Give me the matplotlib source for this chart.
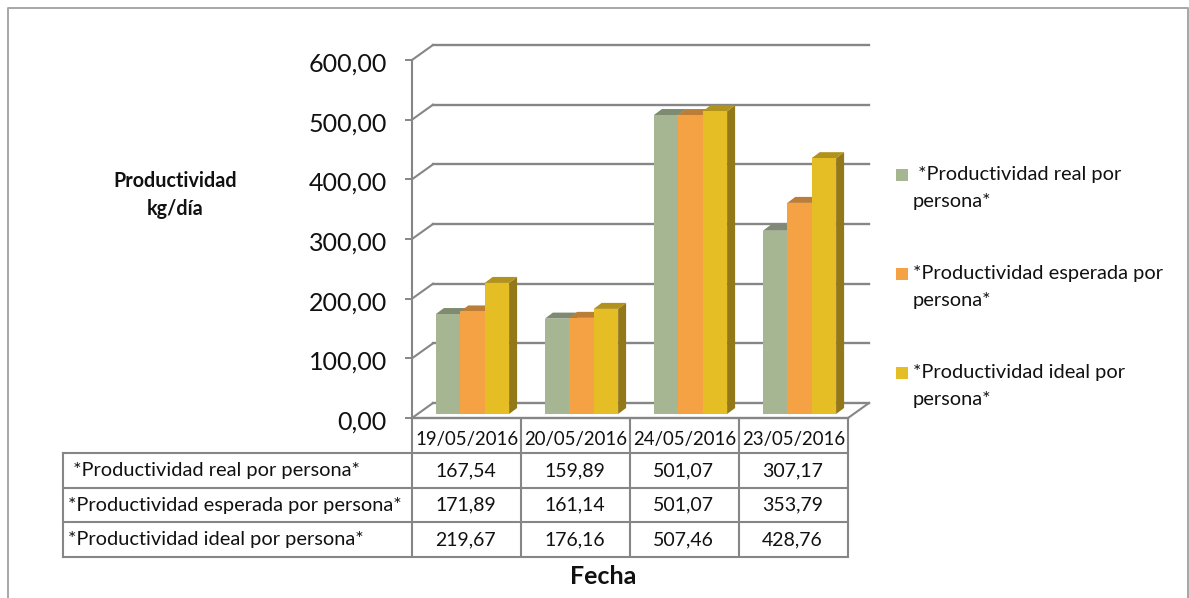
import matplotlib
matplotlib.use("Agg")
import matplotlib.pyplot as plt
from matplotlib.patches import Polygon, Rectangle
from matplotlib.transforms import ScaledTranslation

plt.rcParams['font.family'] = ['Lato', 'DejaVu Sans']

fechas = ["19/05/2016", "20/05/2016", "24/05/2016", "23/05/2016"]
series = [" *Productividad real por persona*", "*Productividad esperada por persona*", "*Productividad ideal por persona*"]
leyenda = [" *Productividad real por\npersona*", "*Productividad esperada por\npersona*", "*Productividad ideal por\npersona*"]
real = [167.54, 159.89, 501.07, 307.17]
esperada = [171.89, 161.14, 501.07, 353.79]
ideal = [219.67, 176.16, 507.46, 428.76]
valores = [real, esperada, ideal]
yticks = [0, 100, 200, 300, 400, 500, 600]

colores = ["#A6B592", "#F4A244", "#E5BD24"]
tapas = ["#7F8B70", "#BC7E36", "#B1921C"]
lados = ["#6F7A60", "#A87030", "#93781A"]
gris = "#868686"

W, H = 1189, 598
fig = plt.figure(figsize=(W/100, H/100), dpi=100)

# capa en pixeles para marco, tabla, leyenda y textos
capa = fig.add_axes([0, 0, 1, 1])
capa.set_xlim(0, W)
capa.set_ylim(H, 0)
capa.axis("off")

# grafico principal: frente del cubo 3D
x0, x1, y0, y1 = 412, 848, 418, 60
ax = fig.add_axes([x0/W, 1-y0/H, (x1-x0)/W, (y0-y1)/H])
ax.patch.set_alpha(0)
ax.set_xlim(0, 4)
ax.set_ylim(0, 600)
px_x = 4/(x1-x0)       # unidades de datos por pixel
px_y = 600/(y0-y1)

for s in ["top", "right", "bottom"]:
    ax.spines[s].set_visible(False)
ax.spines["left"].set_color(gris)
ax.spines["left"].set_linewidth(1.5)
ax.set_xticks([])
ax.set_yticks(yticks)
ax.set_yticklabels(["%d,00" % v for v in yticks], fontsize=18, color="#111111")
ax.tick_params(axis="y", length=5, width=1.4, color=gris, pad=13)
# las etiquetas van 2 px mas abajo que la marca
bajar = ScaledTranslation(0, -2/100, fig.dpi_scale_trans)
for lab in ax.get_yticklabels():
    lab.set_transform(lab.get_transform() + bajar)

# paredes: lineas de la cuadricula
fondo_x = 21*px_x
fondo_y = 15*px_y
for v in yticks:
    ax.plot([0, fondo_x], [v, v+fondo_y], color=gris, lw=1.5, clip_on=False, zorder=1)
    ax.plot([fondo_x, 4+fondo_x], [v+fondo_y, v+fondo_y], color=gris, lw=1.7, clip_on=False, zorder=1)
ax.plot([4, 4+fondo_x], [0, fondo_y], color=gris, lw=1.5, clip_on=False, zorder=1)
ax.plot([0, 4], [0, 0], color=gris, lw=1.7, clip_on=False, zorder=1)

# barras
ancho = 24.4*px_x
prof_x = 8*px_x
prof_y = 6*px_y
base_x = 6*px_x
base_y = 4*px_y
for i in range(len(fechas)):
    for j in range(len(valores)):
        v = valores[j][i]
        izq = i+0.5+base_x+(j-1.5)*ancho
        der = izq+ancho
        top = v+base_y
        ax.add_patch(Polygon([(der, base_y), (der+prof_x, base_y+prof_y), (der+prof_x, top+prof_y), (der, top)],
                             facecolor=lados[j], edgecolor="none", clip_on=False, zorder=3))
        ax.add_patch(Polygon([(izq, top), (izq+prof_x, top+prof_y), (der+prof_x, top+prof_y), (der, top)],
                             facecolor=tapas[j], edgecolor="none", clip_on=False, zorder=3))
        ax.bar(izq, v, ancho, bottom=base_y, align="edge", color=colores[j], clip_on=False, zorder=3)

# tabla de datos
col_x = [412, 521, 630, 739, 848]
fila_y = [418, 453, 488, 522, 557]
tabla_izq = 63
for x in col_x:
    capa.plot([x, x], [fila_y[0], fila_y[-1]], color=gris, lw=1.5, solid_capstyle="butt")
capa.plot([tabla_izq, tabla_izq], [fila_y[1], fila_y[-1]], color=gris, lw=1.5)
for y in fila_y[1:]:
    capa.plot([tabla_izq, col_x[-1]], [y, y], color=gris, lw=1.5)

for i, f in enumerate(fechas):
    cx = (col_x[i]+col_x[i+1])/2
    capa.text(cx, (fila_y[0]+fila_y[1])/2+4, f, ha="center", va="center", fontsize=13.4, color="#111111")
    for j in range(len(valores)):
        cy = (fila_y[j+1]+fila_y[j+2])/2
        capa.text(cx-1, cy, ("%.2f" % valores[j][i]).replace(".", ","), ha="center", va="center", fontsize=14, color="#111111")
for j, nombre in enumerate(series):
    cy = (fila_y[j+1]+fila_y[j+2])/2
    capa.text(68, cy, nombre, ha="left", va="center", fontsize=14.4, color="#111111")

# leyenda
leyenda_y = [188, 287, 386]
for j, texto in enumerate(leyenda):
    capa.add_patch(Rectangle((896, leyenda_y[j]-19), 12, 12, facecolor=colores[j], edgecolor="none"))
    capa.text(913, leyenda_y[j], texto, ha="left", va="center", fontsize=14.4, linespacing=1.74, color="#111111")

# titulos de ejes
capa.text(175, 195, "Productividad\nkg/día", ha="center", va="center", fontsize=14.2, fontweight="bold", linespacing=1.5, color="#111111")
capa.text(603, 577, "Fecha", ha="center", va="center", fontsize=18, fontweight="bold", color="#111111")

# marco exterior
capa.plot([8, 8, 1188, 1188], [H, 8, 8, H], color="#A6A6A6", lw=1.4)

fig.savefig("out.png", dpi=100)
